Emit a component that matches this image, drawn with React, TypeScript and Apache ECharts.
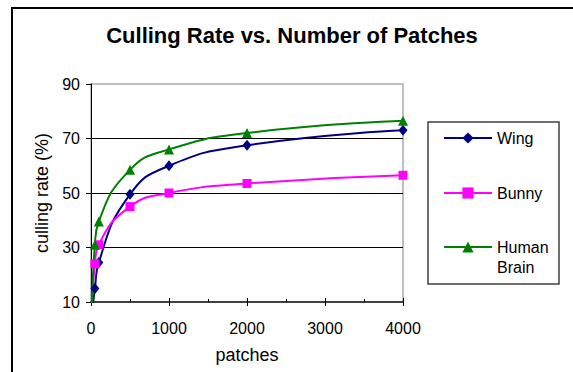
import React, { useEffect, useRef } from "react";
import * as echarts from "echarts";

const patches = [10, 50, 100, 500, 1000, 2000, 4000];
const wing = [5, 15, 24.5, 49.5, 60, 67.5, 73];
const bunny = [8, 24, 31, 45, 50, 53.5, 56.5];
const brain = [7, 31, 39.5, 58.5, 66, 72, 76.5];
const seriesNames = ["Wing", "Bunny", "Human Brain"];
const xTicks = { min: 0, max: 4000, interval: 1000 };
const yTicks = { min: 10, max: 90, interval: 20 };

const FONT = "'Liberation Sans', Arial, sans-serif";

function pairs(ys: number[]) {
  return patches.map((x, i) => [x, ys[i]]);
}

export default function App() {
  const ref = useRef<HTMLDivElement>(null);
  useEffect(() => {
    if (!ref.current) return;
    const chart = echarts.init(ref.current, null, { renderer: "svg" });
    const mk = (name: string, data: number[], color: string, symbol: string, size: any) => ({
      name,
      type: "line",
      data: pairs(data),
      smooth: 0.5,
      clip: true,
      symbol,
      symbolSize: size,
      lineStyle: { color, width: 2 },
      itemStyle: { color },
      emphasis: { disabled: true },
    });
    chart.setOption({
      animation: false,
      backgroundColor: "#fff",
      textStyle: { fontFamily: FONT },
      title: {
        text: "Culling Rate vs. Number of Patches",
        left: 292,
        textAlign: "center",
        top: 24,
        padding: 0,
        textStyle: { fontSize: 22, fontWeight: "bold", color: "#000", fontFamily: FONT },
      },
      grid: {
        left: 91,
        top: 84,
        right: 170,
        bottom: 70,
        show: true,
        borderColor: "#c0c0c0",
        borderWidth: 2,
        backgroundColor: "transparent",
      },
      legend: [
        {
          data: [seriesNames[0], seriesNames[1]],
          orient: "vertical",
          left: 443,
          top: 128,
          padding: 0,
          itemGap: 35,
          itemWidth: 48,
          itemHeight: 14,
          itemTextGap: 5,
          textStyle: { fontSize: 16, lineHeight: 20, color: "#000", fontFamily: FONT },
        },
        {
          data: [seriesNames[2]],
          orient: "vertical",
          left: 443,
          top: 217,
          padding: 0,
          itemWidth: 48,
          itemHeight: 14,
          formatter: () => "\nHuman\nBrain",
          textStyle: {
            fontSize: 16,
            lineHeight: 20,
            color: "#000",
            fontFamily: FONT,
          },
        },
      ],
      xAxis: [
        {
          type: "value",
          min: xTicks.min,
          max: xTicks.max,
          interval: xTicks.interval,
          name: "patches",
          nameLocation: "middle",
          nameGap: 44,
          nameTextStyle: { fontSize: 18, color: "#000", fontFamily: FONT },
          axisLine: { show: true, lineStyle: { color: "#404040", width: 2 } },
          axisTick: { show: true, inside: false, length: 4, lineStyle: { color: "#000" } },
          minorTick: { show: false },
          axisLabel: { fontSize: 16, color: "#000", margin: 18, fontFamily: FONT, formatter: (v: number) => String(v) },
          splitLine: { show: false },
        },
        {
          type: "value",
          position: "bottom",
          min: xTicks.min,
          max: xTicks.max,
          interval: xTicks.interval,
          axisLine: { show: false },
          axisTick: { show: true, inside: true, length: 4, lineStyle: { color: "#000" } },
          minorTick: { show: true, splitNumber: 2, length: 3, lineStyle: { color: "#000" } },
          axisLabel: { show: false },
          splitLine: { show: false },
        },
      ],
      yAxis: {
        type: "value",
        min: yTicks.min,
        max: yTicks.max,
        interval: yTicks.interval,
        name: "culling rate (%)",
        nameLocation: "middle",
        nameGap: 36,
        nameTextStyle: { fontSize: 18, color: "#000", fontFamily: FONT },
        axisLine: { show: true, lineStyle: { color: "#000", width: 1 } },
        axisTick: { show: true, inside: false, length: 5, lineStyle: { color: "#000" } },
        axisLabel: { fontSize: 16, color: "#000", margin: 11, fontFamily: FONT },
        splitLine: { show: true, showMinLine: false, showMaxLine: false, lineStyle: { color: "#000", width: 1 } },
      },
      graphic: [
        {
          type: "rect",
          silent: true,
          z: -10,
          shape: { x: 12, y: 8, width: 700, height: 500 },
          style: { fill: "none", stroke: "#000", lineWidth: 2 },
        },
        {
          type: "rect",
          silent: true,
          shape: { x: 428, y: 122, width: 131, height: 162 },
          style: { fill: "none", stroke: "#404040", lineWidth: 1.5 },
        },
      ],
      series: [
        mk(seriesNames[0], wing, "#000080", "diamond", [9, 11]),
        mk(seriesNames[1], bunny, "#ff00ff", "rect", 9),
        mk(seriesNames[2], brain, "#008000", "triangle", 10),
      ],
    });
    return () => chart.dispose();
  }, []);
  return (
    <div
      ref={ref}
      style={{ position: "fixed", left: 0, top: 0, width: 573, height: 372 }}
    />
  );
}
